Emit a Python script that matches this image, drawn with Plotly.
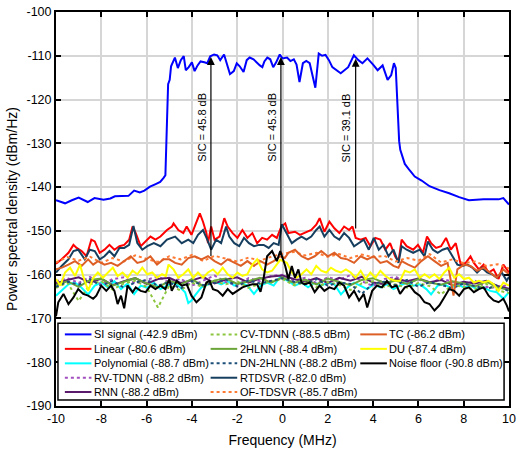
import numpy as np
import plotly.graph_objects as go

# ---------------- data (frequency in MHz, PSD in dBm/Hz) ----------------
si_signal = [(-10.0, -143.0), (-9.6, -143.7), (-9.3, -143.0), (-9.0, -142.4), (-8.6, -143.4),
             (-8.3, -142.5), (-7.9, -142.9), (-7.6, -142.6), (-7.4, -142.1), (-7.1, -142.0),
             (-6.8, -142.0), (-6.55, -140.8), (-6.3, -141.2), (-6.1, -140.8), (-5.85, -139.9),
             (-5.6, -139.3), (-5.4, -138.8), (-5.25, -137.9), (-5.17, -137.3), (-5.1, -125.0),
             (-5.05, -116.5), (-4.98, -115.5), (-4.92, -112.4), (-4.75, -110.4), (-4.62, -112.8),
             (-4.49, -111.0), (-4.36, -110.1), (-4.27, -113.3), (-4.14, -112.6), (-4.0, -111.5),
             (-3.88, -113.5), (-3.75, -112.2), (-3.62, -111.3), (-3.45, -111.5), (-3.32, -111.7),
             (-3.19, -110.1), (-3.02, -109.7), (-2.88, -109.9), (-2.75, -111.0), (-2.58, -109.7),
             (-2.45, -111.7), (-2.32, -114.2), (-2.15, -113.5), (-2.02, -111.7), (-1.89, -112.4),
             (-1.72, -113.7), (-1.58, -111.0), (-1.45, -110.4), (-1.28, -110.8), (-1.15, -111.5),
             (-1.0, -112.2), (-0.89, -112.6), (-0.8, -111.3), (-0.67, -110.4), (-0.54, -110.8),
             (-0.41, -112.6), (-0.28, -111.5), (-0.12, -109.7), (0.0, -110.6), (0.2, -110.4),
             (0.35, -111.2), (0.5, -110.8), (0.62, -112.0), (0.75, -116.0), (0.9, -111.7),
             (1.05, -111.2), (1.2, -111.7), (1.45, -117.3), (1.6, -109.5), (1.75, -110.0),
             (1.9, -109.8), (2.05, -111.0), (2.2, -112.6), (2.57, -114.0), (2.9, -112.6),
             (3.15, -109.9), (3.35, -111.0), (3.53, -111.7), (3.75, -110.6), (4.0, -112.0),
             (4.2, -113.3), (4.42, -112.2), (4.64, -115.5), (4.8, -114.4), (4.92, -111.7),
             (5.0, -112.8), (5.05, -118.0), (5.1, -126.0), (5.15, -129.5), (5.2, -131.5),
             (5.4, -134.7), (5.62, -136.2), (5.84, -137.6), (6.14, -138.5), (6.49, -139.8),
             (6.93, -140.7), (7.36, -141.4), (7.8, -142.3), (8.23, -143.0), (8.88, -142.8),
             (9.32, -142.7), (9.54, -142.8), (9.75, -142.5), (10.0, -144.0)]

linear = [(-10.0, -157.5), (-9.75, -156.5), (-9.45, -155.0), (-9.23, -153.2), (-9.09, -153.9),
          (-8.87, -154.6), (-8.65, -155.8), (-8.44, -152.0), (-8.29, -152.4), (-8.07, -155.0),
          (-7.86, -154.3), (-7.64, -153.2), (-7.42, -154.3), (-7.2, -153.5), (-6.99, -153.2),
          (-6.77, -152.0), (-6.62, -149.0), (-6.48, -150.5), (-6.26, -153.5), (-6.04, -152.4),
          (-5.83, -151.3), (-5.61, -152.0), (-5.39, -151.3), (-5.1, -149.8), (-4.88, -149.0),
          (-4.81, -148.3), (-4.6, -149.8), (-4.38, -150.5), (-4.23, -149.0), (-4.02, -150.9),
          (-3.8, -147.9), (-3.65, -146.0), (-3.51, -147.9), (-3.36, -150.5), (-3.29, -152.8),
          (-3.15, -149.0), (-3.0, -152.0), (-2.78, -151.3), (-2.57, -147.1), (-2.42, -149.0),
          (-2.2, -150.5), (-1.99, -151.6), (-1.77, -149.8), (-1.55, -151.6), (-1.33, -150.5),
          (-1.12, -152.8), (-0.9, -151.6), (-0.68, -152.0), (-0.46, -150.9), (-0.25, -151.6),
          (-0.05, -149.0), (0.12, -148.3), (0.26, -150.5), (0.55, -150.2), (0.77, -150.9),
          (1.06, -150.2), (1.27, -149.8), (1.49, -148.6), (1.64, -147.1), (1.85, -150.2),
          (2.07, -147.9), (2.29, -149.4), (2.51, -150.5), (2.72, -149.0), (2.94, -149.8),
          (3.09, -149.0), (3.23, -151.6), (3.45, -152.0), (3.67, -151.6), (3.88, -153.5),
          (4.1, -151.6), (4.32, -152.0), (4.54, -154.3), (4.75, -152.8), (4.97, -155.8),
          (5.12, -157.0), (5.26, -152.0), (5.48, -153.5), (5.77, -154.3), (5.98, -153.2),
          (6.2, -155.0), (6.38, -151.3), (6.56, -152.8), (6.78, -153.9), (7.0, -153.5),
          (7.22, -151.6), (7.43, -154.3), (7.65, -152.8), (7.87, -157.7), (8.09, -157.3),
          (8.3, -155.8), (8.45, -157.3), (8.67, -158.8), (8.88, -157.7), (9.1, -159.5),
          (9.32, -158.8), (9.54, -161.0), (9.75, -157.7), (10.0, -159.5)]

rtdsvr = [(-10.0, -159.5), (-9.75, -158.0), (-9.45, -156.5), (-9.23, -154.6), (-9.02, -154.3),
          (-8.73, -156.5), (-8.51, -154.3), (-8.29, -154.6), (-8.07, -156.5), (-7.86, -155.8),
          (-7.64, -154.6), (-7.42, -155.8), (-7.2, -153.9), (-6.99, -153.9), (-6.77, -153.2),
          (-6.58, -148.9), (-6.41, -152.8), (-6.19, -154.3), (-5.97, -153.5), (-5.68, -152.8),
          (-5.39, -153.5), (-5.1, -152.0), (-4.74, -151.3), (-4.45, -152.8), (-4.16, -152.0),
          (-3.94, -152.8), (-3.73, -150.9), (-3.51, -149.8), (-3.32, -152.0), (-3.15, -154.3),
          (-2.93, -152.0), (-2.71, -152.8), (-2.49, -149.0), (-2.35, -151.3), (-2.13, -152.8),
          (-1.91, -153.5), (-1.7, -151.6), (-1.48, -152.8), (-1.26, -153.5), (-1.04, -153.2),
          (-0.83, -153.2), (-0.61, -153.9), (-0.39, -152.8), (-0.17, -153.2), (-0.03, -148.5),
          (0.19, -150.5), (0.41, -152.8), (0.62, -152.0), (0.84, -151.3), (1.06, -152.0),
          (1.27, -151.3), (1.49, -149.8), (1.64, -149.0), (1.85, -151.3), (2.07, -149.8),
          (2.29, -151.3), (2.51, -152.0), (2.72, -150.5), (2.94, -151.6), (3.16, -153.5),
          (3.38, -152.8), (3.59, -152.0), (3.81, -154.3), (4.03, -151.6), (4.25, -154.3),
          (4.46, -153.2), (4.68, -155.8), (4.9, -154.3), (5.12, -157.3), (5.26, -153.5),
          (5.48, -154.3), (5.77, -155.0), (6.06, -154.3), (6.27, -155.8), (6.42, -152.4),
          (6.64, -154.3), (6.85, -155.0), (7.07, -154.3), (7.29, -153.9), (7.51, -155.8),
          (7.72, -157.7), (7.94, -158.0), (8.16, -157.7), (8.38, -158.4), (8.59, -159.5),
          (8.81, -158.4), (9.03, -159.5), (9.25, -159.9), (9.46, -160.7), (9.68, -159.5),
          (9.9, -161.4), (10.0, -160.5)]

tc = [(-10.0, -158.8), (-9.74, -158.4), (-9.45, -157.7), (-9.16, -156.9), (-8.87, -158.0),
      (-8.58, -156.5), (-8.36, -157.7), (-8.15, -156.9), (-7.86, -157.7), (-7.57, -157.3),
      (-7.28, -158.0), (-6.99, -156.9), (-6.7, -155.8), (-6.41, -157.3), (-6.12, -156.9),
      (-5.83, -155.8), (-5.54, -157.7), (-5.25, -156.5), (-5.0, -156.5), (-4.74, -157.3),
      (-4.45, -157.7), (-4.16, -156.2), (-3.87, -155.8), (-3.58, -156.5), (-3.29, -155.8),
      (-3.0, -156.9), (-2.71, -157.7), (-2.42, -156.5), (-2.13, -157.3), (-1.84, -158.0),
      (-1.55, -156.9), (-1.26, -158.0), (-0.97, -156.9), (-0.68, -157.7), (-0.39, -156.9),
      (-0.1, -155.8), (0.1, -156.2), (0.26, -155.0), (0.55, -154.3), (0.84, -155.8),
      (1.13, -156.5), (1.42, -155.8), (1.71, -154.6), (2.0, -155.8), (2.29, -155.0),
      (2.58, -156.2), (2.87, -156.5), (3.16, -157.3), (3.45, -155.8), (3.74, -156.5),
      (4.03, -155.8), (4.32, -157.3), (4.61, -156.9), (4.9, -158.0), (5.12, -158.4),
      (5.26, -156.9), (5.55, -157.7), (5.84, -158.4), (6.13, -156.9), (6.42, -155.8),
      (6.71, -156.9), (7.0, -158.0), (7.29, -157.3), (7.55, -164.8), (7.72, -158.8),
      (8.01, -157.7), (8.3, -158.0), (8.59, -159.1), (8.88, -158.4), (9.17, -159.5),
      (9.46, -160.7), (9.75, -158.8), (10.0, -159.9)]

du = [(-10.0, -161.0), (-9.81, -162.5), (-9.6, -159.5), (-9.38, -158.4), (-9.16, -160.3),
      (-8.94, -157.7), (-8.8, -160.3), (-8.58, -163.7), (-8.36, -160.7), (-8.15, -159.5),
      (-7.93, -160.7), (-7.71, -159.5), (-7.49, -158.4), (-7.28, -160.3), (-7.06, -159.5),
      (-6.84, -160.7), (-6.62, -159.1), (-6.41, -159.9), (-6.19, -158.4), (-5.97, -159.9),
      (-5.75, -159.5), (-5.54, -160.7), (-5.32, -159.9), (-5.15, -160.3), (-5.03, -157.7),
      (-4.81, -158.8), (-4.6, -160.7), (-4.38, -159.9), (-4.16, -158.8), (-3.94, -160.7),
      (-3.73, -159.5), (-3.51, -160.7), (-3.29, -159.5), (-3.07, -158.8), (-2.86, -159.9),
      (-2.64, -158.4), (-2.42, -159.9), (-2.2, -160.7), (-1.99, -159.5), (-1.77, -160.3),
      (-1.55, -159.9), (-1.33, -157.7), (-1.12, -156.5), (-0.9, -158.8), (-0.68, -159.5),
      (-0.46, -159.1), (-0.25, -157.7), (-0.1, -156.6), (0.19, -157.3), (0.41, -159.5),
      (0.62, -160.7), (0.84, -159.9), (1.06, -158.8), (1.27, -159.9), (1.49, -158.0),
      (1.71, -159.1), (1.93, -159.5), (2.14, -158.4), (2.36, -159.1), (2.58, -159.5),
      (2.8, -158.8), (3.01, -159.5), (3.23, -160.7), (3.45, -159.1), (3.67, -161.0),
      (3.88, -159.5), (4.1, -160.7), (4.32, -159.1), (4.54, -160.3), (4.75, -161.0),
      (4.97, -161.4), (5.19, -161.4), (5.4, -159.1), (5.62, -159.5), (5.84, -158.8),
      (6.06, -160.7), (6.27, -159.9), (6.49, -160.7), (6.71, -159.9), (6.93, -161.0),
      (7.14, -159.5), (7.36, -158.4), (7.58, -160.7), (7.8, -159.9), (8.01, -161.0),
      (8.23, -160.7), (8.45, -161.8), (8.67, -161.4), (8.88, -161.8), (9.1, -161.4),
      (9.32, -162.2), (9.54, -163.7), (9.75, -161.8), (10.0, -162.5)]

noise_floor = [(-10.0, -169.5), (-9.9, -166.3), (-9.67, -164.4), (-9.45, -166.7), (-9.23, -165.2),
               (-9.02, -163.3), (-8.8, -164.4), (-8.58, -164.8), (-8.36, -165.5), (-8.22, -164.8),
               (-8.0, -162.5), (-7.78, -163.7), (-7.57, -162.5), (-7.42, -163.7), (-7.28, -166.7),
               (-7.13, -164.8), (-6.99, -167.7), (-6.84, -162.5), (-6.62, -164.0), (-6.48, -162.9),
               (-6.26, -163.7), (-6.04, -164.0), (-5.83, -162.5), (-5.61, -163.3), (-5.39, -162.5),
               (-5.17, -163.3), (-5.0, -161.0), (-4.89, -163.7), (-4.67, -161.4), (-4.45, -162.5),
               (-4.23, -162.2), (-4.02, -164.8), (-3.8, -166.3), (-3.58, -165.2), (-3.36, -161.8),
               (-3.22, -161.4), (-3.07, -163.3), (-2.86, -163.7), (-2.64, -164.8), (-2.42, -163.3),
               (-2.2, -164.4), (-1.99, -163.7), (-1.77, -162.9), (-1.55, -162.5), (-1.33, -162.2),
               (-1.12, -162.2), (-0.97, -163.9), (-0.83, -160.7), (-0.68, -155.8), (-0.46, -154.6),
               (-0.25, -156.9), (-0.1, -154.6), (0.12, -158.0), (0.26, -161.0), (0.41, -158.0),
               (0.55, -160.7), (0.7, -158.8), (0.84, -161.8), (0.98, -162.2), (1.2, -161.8),
               (1.42, -164.0), (1.64, -162.5), (1.85, -163.7), (2.07, -162.9), (2.29, -163.3),
               (2.51, -161.8), (2.72, -162.5), (2.94, -165.2), (3.16, -163.7), (3.38, -165.9),
               (3.59, -164.4), (3.74, -167.5), (3.96, -163.7), (4.17, -162.5), (4.39, -162.9),
               (4.61, -161.4), (4.83, -162.9), (5.04, -162.5), (5.19, -164.4), (5.4, -162.9),
               (5.62, -162.5), (5.84, -164.0), (6.06, -164.8), (6.27, -166.3), (6.49, -166.7),
               (6.71, -168.2), (6.93, -167.0), (7.14, -165.2), (7.36, -163.3), (7.58, -163.7),
               (7.8, -164.8), (8.01, -163.3), (8.23, -162.9), (8.45, -164.0), (8.67, -163.3),
               (8.88, -162.9), (9.1, -164.8), (9.32, -165.9), (9.54, -166.3), (9.75, -165.5),
               (9.9, -167.0), (10.0, -168.4)]

polynomial = [(-10.0, -164.8), (-9.67, -163.3), (-9.45, -162.2), (-9.16, -161.8), (-8.87, -163.0),
              (-8.58, -164.5), (-8.29, -162.5), (-8.0, -161.8), (-7.71, -162.9), (-7.42, -161.5),
              (-7.13, -163.3), (-6.84, -162.0), (-6.55, -164.4), (-6.26, -162.5), (-5.97, -163.0),
              (-5.68, -161.8), (-5.39, -163.3), (-5.1, -162.5), (-4.81, -161.8), (-4.6, -162.5),
              (-4.3, -164.0), (-4.16, -166.5), (-4.02, -165.9), (-3.87, -164.8), (-3.58, -162.9),
              (-3.29, -162.2), (-3.0, -161.5), (-2.71, -162.2), (-2.42, -161.5), (-2.13, -162.5),
              (-1.84, -161.8), (-1.55, -162.5), (-1.26, -164.4), (-0.97, -162.5), (-0.68, -161.8),
              (-0.39, -162.5), (-0.1, -160.5), (0.26, -161.5), (0.55, -162.5), (0.84, -161.8),
              (1.13, -162.9), (1.42, -161.8), (1.71, -162.5), (2.0, -161.8), (2.29, -162.2),
              (2.58, -164.5), (2.87, -162.9), (3.16, -161.8), (3.45, -162.5), (3.74, -163.3),
              (4.03, -162.2), (4.32, -162.9), (4.61, -162.2), (4.9, -163.3), (5.19, -162.5),
              (5.48, -161.8), (5.77, -162.5), (6.06, -162.2), (6.35, -163.3), (6.56, -164.5),
              (6.85, -162.5), (7.14, -162.2), (7.43, -163.0), (7.72, -162.2), (8.01, -162.9),
              (8.3, -162.5), (8.59, -163.3), (8.88, -162.9), (9.17, -163.7), (9.46, -164.0),
              (9.75, -165.5), (10.0, -164.0)]

# remaining estimators on a common 0.5 MHz grid
grid_f = np.linspace(-10, 10, 41)
rv_tdnn = [-161.5, -160.8, -161.9, -160.5, -162.3, -161.0, -160.6, -162.0, -161.2, -160.4,
           -161.8, -160.9, -162.5, -161.3, -160.2, -161.7, -162.4, -160.8, -161.5, -160.3,
           -160.0, -161.4, -160.7, -161.9, -160.6, -161.2, -160.1, -161.5, -162.6, -161.0,
           -160.5, -161.8, -161.1, -162.0, -160.9, -161.6, -162.3, -161.4, -162.8, -163.0, -162.2]
rnn = [-162.0, -161.2, -160.6, -161.8, -160.9, -162.4, -161.5, -160.8, -162.1, -161.0,
       -160.7, -161.9, -161.3, -160.5, -162.0, -161.1, -160.6, -161.8, -160.9, -160.4,
       -160.2, -161.0, -161.6, -160.8, -161.9, -160.7, -161.4, -160.5, -161.8, -162.2,
       -161.0, -161.5, -160.9, -161.7, -161.2, -162.4, -161.6, -162.0, -161.4, -162.6, -163.2]
cv_tdnn = [-163.0, -161.8, -166.0, -162.2, -161.5, -163.4, -162.0, -161.4, -162.8, -167.5,
           -162.5, -163.6, -161.8, -162.9, -161.6, -162.2, -161.5, -163.0, -162.1, -161.6,
           -161.0, -162.4, -161.8, -162.9, -161.7, -162.3, -163.5, -162.0, -161.5, -162.8,
           -162.2, -163.0, -161.9, -162.6, -164.5, -162.3, -162.9, -163.4, -162.1, -163.6, -164.2]
hlnn2 = [-162.4, -161.5, -162.8, -161.2, -160.9, -162.5, -161.6, -160.8, -162.0, -162.9,
         -161.4, -162.2, -161.0, -162.6, -161.3, -160.9, -162.1, -161.5, -160.7, -161.8,
         -160.6, -161.9, -161.1, -162.2, -160.9, -161.6, -162.4, -161.2, -160.8, -161.9,
         -161.4, -162.1, -161.0, -161.8, -162.3, -161.5, -162.0, -162.7, -161.6, -162.9, -163.5]
dn_2hlnn = [-162.8, -161.6, -162.3, -161.0, -162.6, -161.4, -163.0, -161.8, -161.2, -162.5,
            -161.7, -163.2, -161.5, -162.4, -161.9, -161.1, -162.7, -161.3, -162.0, -161.4,
            -160.8, -161.6, -162.2, -161.0, -162.5, -161.8, -162.1, -164.4, -162.0, -161.6,
            -162.4, -161.2, -162.8, -161.7, -162.3, -163.1, -162.0, -162.6, -163.3, -162.4, -163.8]
of_tdsvr = [-157.2, -156.0, -156.8, -155.9, -157.3, -156.2, -157.0, -155.6, -156.4, -157.1,
            -155.8, -156.5, -155.5, -156.9, -155.7, -156.3, -157.0, -156.1, -156.8, -155.9,
            -155.2, -154.8, -155.6, -155.0, -155.9, -155.3, -156.2, -155.4, -156.0, -155.7,
            -157.0, -156.2, -156.8, -155.3, -157.2, -156.5, -157.4, -157.0, -158.0, -157.6, -158.6]

# SIC markers: frequency, SI peak level, stated cancellation
sic_f = [-3.16, -0.07, 3.23]
sic_top = [-110.3, -110.3, -110.7]
sic_db = [45.8, 45.3, 39.1]

# axis ticks (written with a plain hyphen)
x_ticks = [-10, -8, -6, -4, -2, 0, 2, 4, 6, 8, 10]
y_ticks = [-190, -180, -170, -160, -150, -140, -130, -120, -110, -100]

# ---------------- series styling ----------------
FONT = "Arial, Liberation Sans, sans-serif"


def unzip(pairs):
    return [p[0] for p in pairs], [p[1] for p in pairs]


series = [
    # name, (f, psd), colour, dash
    ("SI signal (-42.9 dBm)", unzip(si_signal), "#0000FF", "solid"),
    ("Linear (-80.6 dBm)", unzip(linear), "#FF0000", "solid"),
    ("Polynomial (-88.7 dBm)", unzip(polynomial), "#00FFFF", "solid"),
    ("RV-TDNN (-88.2 dBm)", (grid_f, rv_tdnn), "#A24FC0", "dot"),
    ("RNN (-88.2 dBm)", (grid_f, rnn), "#591A6C", "solid"),
    ("CV-TDNN (-88.5 dBm)", (grid_f, cv_tdnn), "#8CC63E", "dot"),
    ("2HLNN (-88.4 dBm)", (grid_f, hlnn2), "#6BA539", "solid"),
    ("DN-2HLNN (-88.2 dBm)", (grid_f, dn_2hlnn), "#1D4F7A", "dot"),
    ("RTDSVR (-82.0 dBm)", unzip(rtdsvr), "#163E5E", "solid"),
    ("OF-TDSVR (-85.7 dBm)", (grid_f, of_tdsvr), "#FF7A33", "dot"),
    ("TC (-86.2 dBm)", unzip(tc), "#DD5F26", "solid"),
    ("DU (-87.4 dBm)", unzip(du), "#FFFF00", "solid"),
    ("Noise floor (-90.8 dBm)", unzip(noise_floor), "#000000", "solid"),
]

fig = go.Figure()
for name, (f, psd), colour, dash in series:
    fig.add_trace(go.Scatter(x=list(f), y=list(psd), mode="lines", name=name,
                             line=dict(color=colour, width=2, dash=dash),
                             showlegend=False))

# ---------------- SIC arrows and labels ----------------
annotations = []
for f, top, db in zip(sic_f, sic_top, sic_db):
    annotations.append(dict(x=f, y=top, ax=f, ay=top - db, xref="x", yref="y",
                            axref="x", ayref="y", text="", showarrow=True,
                            arrowhead=2, arrowsize=1.3, arrowwidth=1.2,
                            arrowcolor="black", standoff=0))
    annotations.append(dict(x=f - 0.43, y=-126.4, xref="x", yref="y",
                            text=f"SIC = {db} dB", showarrow=False, textangle=-90,
                            font=dict(family=FONT, size=11, color="black")))

# ---------------- legend box (3 columns, filled column-wise) ----------------
W, H, ML, MB = 460.0, 400.0, 56.0, 45.0
PLOT_TOP = 6.0


def px_x(px):
    return (px - ML) / W


def px_y(py):
    return (PLOT_TOP + H - py) / H


shapes = [dict(type="rect", xref="paper", yref="paper",
               x0=px_x(58), x1=px_x(511), y0=px_y(400), y1=px_y(322),
               fillcolor="white", line=dict(color="black", width=1.5), layer="above")]

col_line_x = [65, 213, 365]
row_y = [333.3, 348.0, 362.7, 377.3, 391.8]
for i, (name, _, colour, dash) in enumerate(series):
    col, row = divmod(i, 5)
    lx = col_line_x[col]
    ly = px_y(row_y[row])
    shapes.append(dict(type="line", xref="paper", yref="paper",
                       x0=px_x(lx), x1=px_x(lx + 27), y0=ly, y1=ly,
                       line=dict(color=colour, width=2, dash=dash), layer="above"))
    annotations.append(dict(x=px_x(lx + 27.5), y=ly, xref="paper", yref="paper",
                            xanchor="left", yanchor="middle", text=name, showarrow=False,
                            font=dict(family=FONT, size=11, color="black")))

axis_common = dict(showline=True, linecolor="black", linewidth=2, mirror="ticks",
                   ticks="inside", ticklen=5, tickwidth=1.5, tickcolor="black",
                   showgrid=True, gridcolor="#d6d6d6", gridwidth=1.6, zeroline=False,
                   tickfont=dict(family=FONT, size=12.5, color="black"))

fig.update_layout(
    width=521, height=451,
    margin=dict(l=ML, r=521 - ML - W, t=PLOT_TOP, b=MB),
    paper_bgcolor="white", plot_bgcolor="white",
    xaxis=dict(range=[-10, 10], tickmode="array", tickvals=x_ticks,
               ticktext=[str(v) for v in x_ticks],
               title=dict(text="Frequency (MHz)", font=dict(family=FONT, size=14, color="black"),
                          standoff=10),
               **axis_common),
    yaxis=dict(range=[-190, -100], tickmode="array", tickvals=y_ticks,
               ticktext=[str(v) for v in y_ticks],
               title=dict(text="Power spectral density (dBm/Hz)",
                          font=dict(family=FONT, size=14, color="black"), standoff=6),
               **axis_common),
    shapes=shapes,
    annotations=annotations,
    showlegend=False,
)

fig.write_html("out.html")
